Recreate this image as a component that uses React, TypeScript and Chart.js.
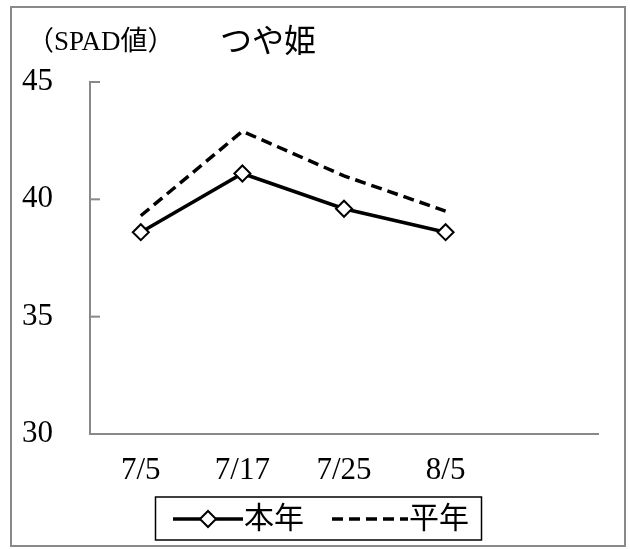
import React, { useEffect, useRef } from 'react';
import { Chart, registerables } from 'chart.js';

Chart.register(...registerables);

const categories = ['7/5', '7/17', '7/25', '8/5', ''];
const thisYear = [38.6, 41.1, 39.6, 38.6];
const normalYear = [39.3, 42.9, 41.0, 39.5];
const yTicks = [30, 35, 40, 45];
const seriesNames = ['本年', '平年'];
const chartTitle = 'つや姫';
const yUnit = '（SPAD値）';

const FONT = '"Liberation Serif", "Noto Sans CJK JP", serif';
const GRAY = '#898989';

const decor = {
  id: 'decor',
  beforeDraw(chart: any) {
    const ctx = chart.ctx;
    ctx.save();
    ctx.fillStyle = '#fff';
    ctx.fillRect(0, 0, chart.width, chart.height);
    ctx.strokeStyle = GRAY;
    ctx.lineWidth = 2;
    ctx.strokeRect(11, 7, 614, 539);
    ctx.restore();
  },
  afterDraw(chart: any) {
    const ctx = chart.ctx;
    const y = chart.scales.y;
    const area = chart.chartArea;
    ctx.save();
    // inside tick marks on y axis
    ctx.strokeStyle = GRAY;
    ctx.lineWidth = 2;
    yTicks.forEach((v) => {
      const py = y.getPixelForValue(v);
      ctx.beginPath();
      ctx.moveTo(area.left, py);
      ctx.lineTo(area.left + 10, py);
      ctx.stroke();
    });
    // titles
    ctx.fillStyle = '#000';
    ctx.textBaseline = 'middle';
    ctx.font = `32px ${FONT}`;
    ctx.textAlign = 'center';
    ctx.fillText(chartTitle, 268, 44);
    ctx.font = `27px ${FONT}`;
    ctx.textAlign = 'left';
    ctx.fillText(yUnit, 27, 43);

    // legend
    const bx = 155.5, by = 497, bw = 326, bh = 43;
    ctx.strokeStyle = '#000';
    ctx.lineWidth = 1.5;
    ctx.strokeRect(bx, by, bw, bh);
    const ly = by + bh / 2 + 0.5;
    const ds0 = chart.data.datasets[0];
    const ds1 = chart.data.datasets[1];
    // sample 1
    ctx.strokeStyle = ds0.borderColor;
    ctx.lineWidth = ds0.borderWidth;
    ctx.setLineDash([]);
    ctx.beginPath();
    ctx.moveTo(173, ly);
    ctx.lineTo(243, ly);
    ctx.stroke();
    const cx = 208, r = ds0.pointRadius;
    ctx.beginPath();
    ctx.moveTo(cx - r, ly);
    ctx.lineTo(cx, ly - r);
    ctx.lineTo(cx + r, ly);
    ctx.lineTo(cx, ly + r);
    ctx.closePath();
    ctx.fillStyle = ds0.pointBackgroundColor;
    ctx.fill();
    ctx.lineWidth = ds0.pointBorderWidth;
    ctx.strokeStyle = ds0.pointBorderColor;
    ctx.stroke();
    // sample 2
    ctx.strokeStyle = ds1.borderColor;
    ctx.lineWidth = ds1.borderWidth;
    ctx.setLineDash(ds1.borderDash);
    ctx.beginPath();
    ctx.moveTo(332, ly);
    ctx.lineTo(408, ly);
    ctx.stroke();
    ctx.setLineDash([]);
    ctx.fillStyle = '#000';
    ctx.font = `30px ${FONT}`;
    ctx.textAlign = 'left';
    ctx.fillText(seriesNames[0], 244, ly + 1);
    ctx.fillText(seriesNames[1], 409, ly + 1);
    ctx.restore();
  },
};

export default function App() {
  const ref = useRef<HTMLCanvasElement | null>(null);
  useEffect(() => {
    if (!ref.current) return;
    const chart = new Chart(ref.current, {
      type: 'line',
      data: {
        labels: categories,
        datasets: [
          {
            label: seriesNames[0],
            data: thisYear,
            borderColor: '#000',
            borderWidth: 3.5,
            pointStyle: 'rectRot',
            pointRadius: 8,
            pointBackgroundColor: '#fff',
            pointBorderColor: '#000',
            pointBorderWidth: 2,
            tension: 0,
          },
          {
            label: seriesNames[1],
            data: normalYear,
            borderColor: '#000',
            borderWidth: 3.5,
            borderDash: [11, 6],
            pointRadius: 0,
            tension: 0,
          },
        ],
      },
      options: {
        animation: false,
        responsive: false,
        devicePixelRatio: 1,
        layout: { padding: { top: 82, right: 32, left: 0, bottom: 0 } },
        plugins: {
          legend: { display: false },
          tooltip: { enabled: false },
          title: { display: false },
        },
        scales: {
          x: {
            type: 'category',
            offset: true,
            grid: { display: false, drawTicks: false },
            border: { display: true, color: GRAY, width: 2 },
            ticks: {
              color: '#000',
              font: { family: FONT, size: 31 },
              padding: 18,
              maxRotation: 0,
              autoSkip: false,
            },
            afterFit(s: any) {
              s.height = 115;
            },
          },
          y: {
            min: 30,
            max: 45,
            grid: { display: false, drawTicks: false },
            border: { display: true, color: GRAY, width: 2 },
            ticks: {
              stepSize: 5,
              color: '#000',
              font: { family: FONT, size: 31 },
              padding: 37,
            },
            afterFit(s: any) {
              s.width = 90;
            },
          },
        },
      },
      plugins: [decor],
    } as any);
    return () => chart.destroy();
  }, []);
  return (
    <div style={{ position: 'absolute', left: 0, top: 0, width: 630, height: 549 }}>
      <canvas ref={ref} width={630} height={549} style={{ display: 'block' }} />
    </div>
  );
}
